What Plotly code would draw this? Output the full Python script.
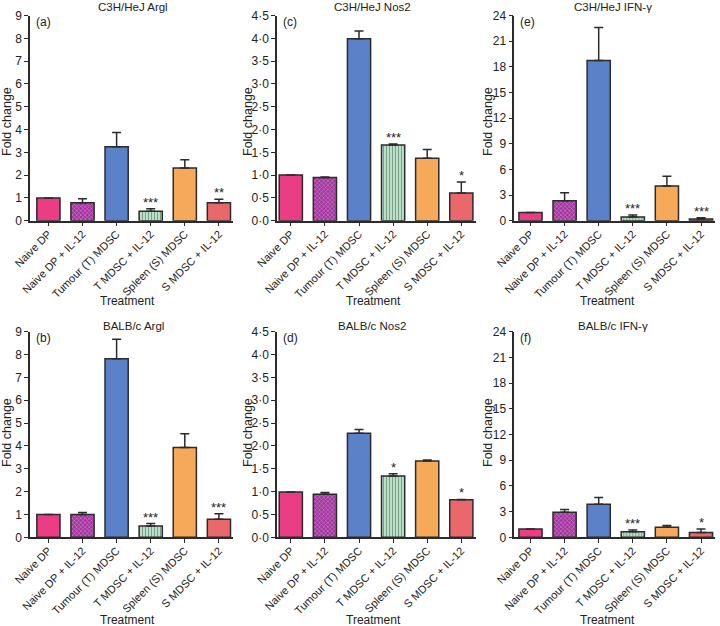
import plotly.graph_objects as go

# ---------------- data ----------------
categories = ["Naive DP", "Naive DP + IL-12", "Tumour (T) MDSC",
              "T MDSC + IL-12", "Spleen (S) MDSC", "S MDSC + IL-12"]

bar_colors = ["#ea3d84", "#a3339f", "#5b81c9", "#b6e2c6", "#f7a95a", "#ea676b"]
pattern_shapes = ["", "x", "", "|", "", ""]
pattern_fg = ["#ea3d84", "#bb4db4", "#5b81c9", "#cdecd7", "#f7a95a", "#ea676b"]

# (a) C3H/HeJ Argl
c3h_argl_mean = [1.0, 0.79, 3.24, 0.41, 2.31, 0.79]
c3h_argl_upper = [1.0, 0.96, 3.87, 0.52, 2.67, 0.94]
c3h_argl_stars = ["", "", "", "***", "", "**"]
# (b) BALB/c Argl
balb_argl_mean = [1.0, 1.0, 7.82, 0.5, 3.93, 0.79]
balb_argl_upper = [1.0, 1.09, 8.67, 0.6, 4.53, 1.03]
balb_argl_stars = ["", "", "", "***", "", "***"]
# (c) C3H/HeJ Nos2
c3h_nos2_mean = [1.0, 0.95, 3.99, 1.66, 1.37, 0.61]
c3h_nos2_upper = [1.0, 0.96, 4.16, 1.68, 1.56, 0.85]
c3h_nos2_stars = ["", "", "", "***", "", "*"]
# (d) BALB/c Nos2
balb_nos2_mean = [0.99, 0.94, 2.28, 1.34, 1.67, 0.82]
balb_nos2_upper = [0.99, 0.98, 2.36, 1.39, 1.69, 0.83]
balb_nos2_stars = ["", "", "", "*", "", "*"]
# (e) C3H/HeJ IFN-gamma
c3h_ifng_mean = [0.97, 2.33, 18.75, 0.42, 4.05, 0.2]
c3h_ifng_upper = [0.97, 3.27, 22.6, 0.66, 5.2, 0.35]
c3h_ifng_stars = ["", "", "", "***", "", "***"]
# (f) BALB/c IFN-gamma
balb_ifng_mean = [0.98, 2.93, 3.87, 0.66, 1.17, 0.55]
balb_ifng_upper = [0.98, 3.24, 4.65, 0.86, 1.37, 0.98]
balb_ifng_stars = ["", "", "", "***", "", "*"]

argl_ticks = [0, 1, 2, 3, 4, 5, 6, 7, 8, 9]
nos2_ticks = [0, 0.5, 1, 1.5, 2, 2.5, 3, 3.5, 4, 4.5]
ifng_ticks = [0, 3, 6, 9, 12, 15, 18, 21, 24]

panels = [
    dict(title="C3H/HeJ Argl", label="(a)", mean=c3h_argl_mean, upper=c3h_argl_upper,
         stars=c3h_argl_stars, ticks=argl_ticks, col=0, row=0),
    dict(title="C3H/HeJ Nos2", label="(c)", mean=c3h_nos2_mean, upper=c3h_nos2_upper,
         stars=c3h_nos2_stars, ticks=nos2_ticks, col=1, row=0),
    dict(title="C3H/HeJ IFN-\u03b3", label="(e)", mean=c3h_ifng_mean, upper=c3h_ifng_upper,
         stars=c3h_ifng_stars, ticks=ifng_ticks, col=2, row=0),
    dict(title="BALB/c Argl", label="(b)", mean=balb_argl_mean, upper=balb_argl_upper,
         stars=balb_argl_stars, ticks=argl_ticks, col=0, row=1),
    dict(title="BALB/c Nos2", label="(d)", mean=balb_nos2_mean, upper=balb_nos2_upper,
         stars=balb_nos2_stars, ticks=nos2_ticks, col=1, row=1),
    dict(title="BALB/c IFN-\u03b3", label="(f)", mean=balb_ifng_mean, upper=balb_ifng_upper,
         stars=balb_ifng_stars, ticks=ifng_ticks, col=2, row=1),
]

# ---------------- layout geometry (pixels) ----------------
W, H = 720, 626
SLOT = 34.1
col_left = [30, 277, 514.3]
col_start = [-0.54, -0.405, -0.475]
col_end = 5.42
row_zero = [220.7, 537.3]
row_top = [15.5, 331.7]
title_x = [133, 372, 613]
title_y = [7, 326]
treat_x = [127, 373, 607]
treat_y = [301, 620]
fold_x = [7, 248, 488]
fold_y = [122, 433]

FONT = "Liberation Sans, Arial, Helvetica, sans-serif"
TXT = "#222222"

fig = go.Figure()
annotations = []

def px_x(x):
    return x / W

def px_y(y):
    return 1 - y / H

for i, p in enumerate(panels):
    n = i + 1
    xa = "x" if n == 1 else f"x{n}"
    ya = "y" if n == 1 else f"y{n}"
    c, r = p["col"], p["row"]
    left = col_left[c]
    right = left + (col_end - col_start[c]) * SLOT
    err = [u - m for u, m in zip(p["upper"], p["mean"])]
    fig.add_trace(go.Bar(
        x=categories, y=p["mean"], xaxis=xa, yaxis=ya, width=0.68,
        marker=dict(color=bar_colors,
                    line=dict(color="#2b2b2b", width=1.5),
                    pattern=dict(shape=pattern_shapes, fgcolor=pattern_fg,
                                 bgcolor=bar_colors, size=3, solidity=0.3)),
        error_y=dict(type="data", symmetric=False, array=err,
                     arrayminus=[0] * len(err), color="#2b2b2b",
                     thickness=1.5, width=4.5),
        showlegend=False, hoverinfo="skip"))
    ticks = p["ticks"]
    if p["ticks"] is nos2_ticks:
        ticktext = [f"{t:.1f}".replace(".", "\u00b7") for t in ticks]
    else:
        ticktext = [str(t) for t in ticks]
    key = "" if n == 1 else str(n)
    fig.layout["xaxis" + key] = dict(
        domain=[px_x(left), px_x(right)], anchor=ya,
        range=[col_start[c], col_end], type="category",
        showline=True, linecolor="#2b2b2b", linewidth=1.5,
        ticks="outside", ticklen=4, tickwidth=1.2, tickcolor="#2b2b2b",
        tickangle=-45, tickfont=dict(family=FONT, size=11, color=TXT),
        ticklabelstandoff=-3,
        showgrid=False, zeroline=False, fixedrange=True, automargin=False)
    fig.layout["yaxis" + key] = dict(
        domain=[px_y(row_zero[r]), px_y(row_top[r])], anchor=xa,
        range=[0, ticks[-1]], tickmode="array", tickvals=ticks, ticktext=ticktext,
        showline=True, linecolor="#2b2b2b", linewidth=1.5,
        ticks="outside", ticklen=4, tickwidth=1.2, tickcolor="#2b2b2b",
        tickfont=dict(family=FONT, size=12, color=TXT),
        showgrid=False, zeroline=False, fixedrange=True, automargin=False)
    # significance stars
    for cat, u, s in zip(categories, p["upper"], p["stars"]):
        if s:
            annotations.append(dict(x=cat, y=u, xref=xa, yref=ya, text=s,
                                    showarrow=False, yanchor="bottom", yshift=-3,
                                    font=dict(family=FONT, size=13, color=TXT)))
    # titles / labels
    annotations.append(dict(x=px_x(title_x[c]), y=px_y(title_y[r]), xref="paper", yref="paper",
                            text=p["title"], showarrow=False, xanchor="center", yanchor="middle",
                            font=dict(family=FONT, size=11.5, color=TXT)))
    annotations.append(dict(x=px_x(left + 4), y=px_y(row_top[r] + 6), xref="paper", yref="paper",
                            text=p["label"], showarrow=False, xanchor="left", yanchor="middle",
                            font=dict(family=FONT, size=12, color=TXT)))
    annotations.append(dict(x=px_x(treat_x[c]), y=px_y(treat_y[r]), xref="paper", yref="paper",
                            text="Treatment", showarrow=False, xanchor="center", yanchor="middle",
                            font=dict(family=FONT, size=12, color=TXT)))
    annotations.append(dict(x=px_x(fold_x[c]), y=px_y(fold_y[r]), xref="paper", yref="paper",
                            text="Fold change", showarrow=False, textangle=-90,
                            xanchor="center", yanchor="middle",
                            font=dict(family=FONT, size=12.5, color=TXT)))

fig.update_layout(
    width=W, height=H, margin=dict(l=0, r=0, t=0, b=0, autoexpand=False),
    paper_bgcolor="white", plot_bgcolor="white",
    annotations=annotations, bargap=0.3)

fig.write_html("out.html", config={"displayModeBar": False},
               post_script="document.body.style.margin='0';document.body.style.padding='0';")
